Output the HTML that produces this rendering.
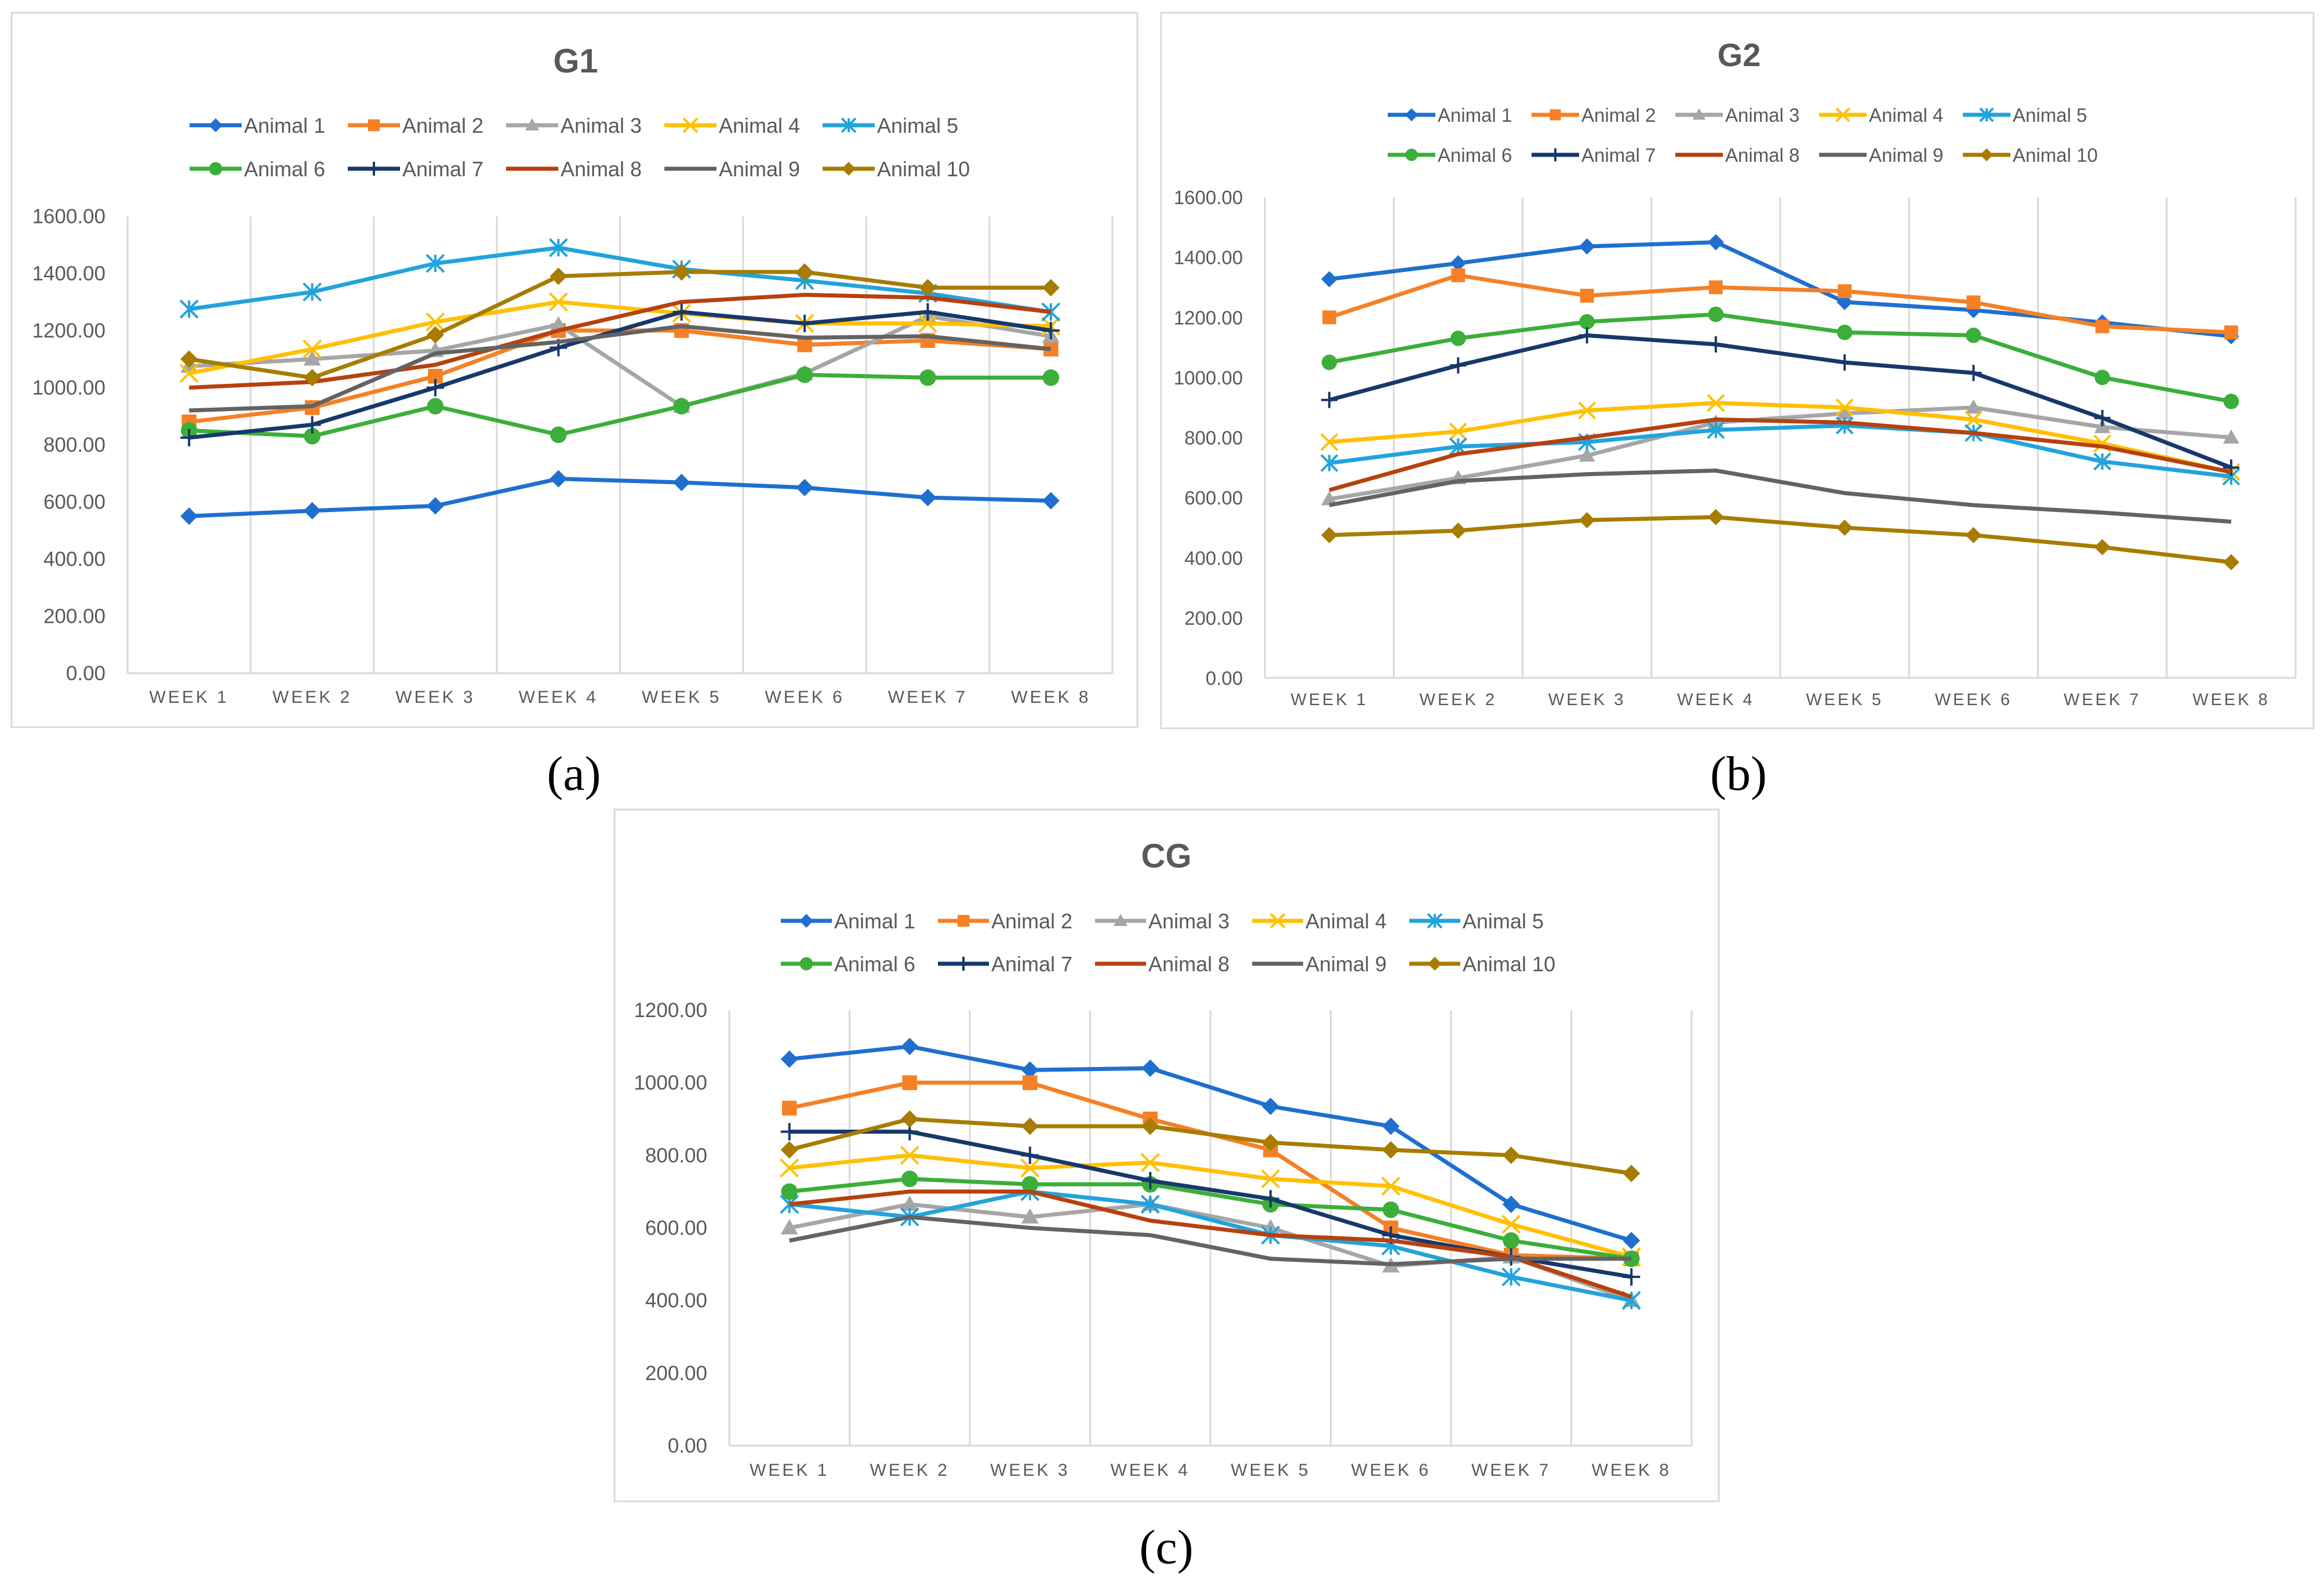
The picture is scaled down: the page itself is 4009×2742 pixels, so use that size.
<!DOCTYPE html>
<html><head><meta charset="utf-8"><style>
html,body{margin:0;padding:0;background:#fff;}
svg{display:block;}
text{font-family:"Liberation Sans Narrow","Liberation Sans",sans-serif;}
</style></head><body>
<svg id="root" width="4009" height="2742" viewBox="0 0 4009 2742" xmlns="http://www.w3.org/2000/svg"></svg>
<script>
const weeks = ["WEEK 1","WEEK 2","WEEK 3","WEEK 4","WEEK 5","WEEK 6","WEEK 7","WEEK 8"];
const seriesNames = ["Animal 1","Animal 2","Animal 3","Animal 4","Animal 5","Animal 6","Animal 7","Animal 8","Animal 9","Animal 10"];
const ticksG = [0,200,400,600,800,1000,1200,1400,1600];
const ticksCG = [0,200,400,600,800,1000,1200];
const g1A1=[550,569,586,681,668,650,615,604];
const g1A2=[880,930,1040,1200,1200,1150,1165,1135];
const g1A3=[1075,1100,1130,1220,935,1050,1250,1180];
const g1A4=[1050,1135,1230,1300,1260,1225,1225,1215];
const g1A5=[1275,1335,1435,1490,1415,1375,1330,1265];
const g1A6=[850,830,935,835,935,1045,1035,1035];
const g1A7=[825,870,1000,1140,1265,1225,1265,1200];
const g1A8=[1000,1020,1080,1200,1300,1325,1315,1265];
const g1A9=[920,935,1120,1160,1215,1175,1180,1135];
const g1A10=[1100,1035,1185,1390,1405,1405,1350,1350];
const g2A1=[1327,1380,1436,1450,1251,1224,1183,1137];
const g2A2=[1200,1340,1272,1300,1287,1250,1170,1150];
const g2A3=[595,665,740,850,880,900,835,800];
const g2A4=[785,820,890,915,900,860,780,685];
const g2A5=[715,770,785,825,840,815,720,670];
const g2A6=[1050,1130,1185,1210,1150,1140,1000,920];
const g2A7=[925,1040,1140,1110,1050,1015,865,700];
const g2A8=[625,745,800,860,850,815,770,685];
const g2A9=[575,655,678,690,615,575,550,520];
const g2A10=[475,490,525,535,500,475,435,385];
const cgA1=[1065,1100,1035,1040,935,880,665,565];
const cgA2=[930,1000,1000,900,815,600,525,515];
const cgA3=[600,665,630,665,600,495,520,400];
const cgA4=[765,800,765,780,735,715,610,520];
const cgA5=[665,630,700,665,580,550,465,400];
const cgA6=[700,735,720,720,665,650,565,515];
const cgA7=[865,865,800,730,680,580,520,465];
const cgA8=[665,700,700,620,580,565,520,410];
const cgA9=[565,630,600,580,515,500,515,515];
const cgA10=[815,900,880,880,835,815,800,750];

const colors=["#1f6fcf","#f58026","#a6a6a6","#ffc000","#22a3dc","#3cae3a","#17386b","#b7410e","#636363","#a77c00"];
const markers=["diamond","square","triangle","x","star","circle","plus","none","none","diamond"];

const NS="http://www.w3.org/2000/svg";
const root=document.getElementById('root');
function mk(tag,attrs,parent){const e=document.createElementNS(NS,tag);for(const k in attrs)e.setAttribute(k,attrs[k]);(parent||root).appendChild(e);return e;}

function marker(g,type,x,y,c,s){
  let e=null;
  if(type==="diamond"){e=mk('polygon',{points:`${x},${y-s} ${x+s},${y} ${x},${y+s} ${x-s},${y}`,fill:c},g);}
  else if(type==="square"){e=mk('rect',{x:x-s*0.85,y:y-s*0.85,width:s*1.7,height:s*1.7,fill:c},g);}
  else if(type==="triangle"){e=mk('polygon',{points:`${x},${y-s} ${x+s},${y+s*0.75} ${x-s},${y+s*0.75}`,fill:c},g);}
  else if(type==="circle"){e=mk('circle',{cx:x,cy:y,r:s*0.95,fill:c},g);}
  else if(type==="x"){e=mk('path',{d:`M${x-s} ${y-s}L${x+s} ${y+s}M${x-s} ${y+s}L${x+s} ${y-s}`,stroke:c,'stroke-width':4,fill:'none'},g);}
  else if(type==="star"){e=mk('path',{d:`M${x-s} ${y-s}L${x+s} ${y+s}M${x-s} ${y+s}L${x+s} ${y-s}M${x} ${y-s}L${x} ${y+s}`,stroke:c,'stroke-width':4,fill:'none'},g);}
  else if(type==="plus"){e=mk('path',{d:`M${x-s} ${y}L${x+s} ${y}M${x} ${y-s}L${x} ${y+s}`,stroke:c,'stroke-width':4,fill:'none'},g);}
  if(e){
    
    
  }
}

function chart(cfg){
  const g=mk('g',{});
  
  
  const fr=mk('rect',{x:cfg.fx,y:cfg.fy,width:cfg.fw,height:cfg.fh,fill:'#fff',stroke:'#d9d9d9','stroke-width':3},g);
  
  
  const t=mk('text',{x:cfg.tx,y:cfg.ty,'text-anchor':'middle','font-size':cfg.tfs,'font-weight':'bold',fill:'#595959'},g);
  t.textContent=cfg.title;
  
  
  const L=cfg.L,R=cfg.R,T=cfg.T,B=cfg.B,ymax=cfg.ymax;
  const n=weeks.length,cw=(R-L)/n;
  const xs=i=>L+cw*(i+0.5);
  const ys=v=>B-(B-T)*v/ymax;
  for(let i=0;i<=n;i++){
    const gl=mk('line',{x1:L+cw*i,x2:L+cw*i,y1:T,y2:B,stroke:'#d9d9d9','stroke-width':3},g);
    
    
  }
  const ax=mk('line',{x1:L,x2:R,y1:B,y2:B,stroke:'#d9d9d9','stroke-width':3},g);
  
  
  cfg.ticks.forEach(v=>{
    const tl=mk('text',{x:L-38,y:ys(v)+12,'text-anchor':'end','font-size':cfg.afs,fill:'#595959'},g);
    tl.textContent=v.toFixed(2);
    
    
  });
  weeks.forEach((w,i)=>{
    const wl=mk('text',{x:xs(i),y:cfg.wy,'text-anchor':'middle','font-size':cfg.wfs,fill:'#595959','letter-spacing':4},g);
    wl.textContent=w;
    
    
  });
  cfg.data.forEach((arr,si)=>{
    const pts=arr.map((v,i)=>xs(i)+','+ys(v)).join(' ');
    const pl=mk('polyline',{points:pts,fill:'none',stroke:colors[si],'stroke-width':cfg.lw,'stroke-linejoin':'round'},g);
    
    
    arr.forEach((v,i)=>marker(g,markers[si],xs(i),ys(v),colors[si],cfg.ms));
  });
  seriesNames.forEach((nm,si)=>{
    const row=si<5?0:1,col=si%5;
    const lx=cfg.lgx+col*cfg.lgs,ly=row===0?cfg.lgy1:cfg.lgy2;
    const lg=mk('g',{},g);
    
    
    mk('line',{x1:lx,x2:lx+cfg.lgw,y1:ly,y2:ly,stroke:colors[si],'stroke-width':cfg.lw},lg);
    marker(lg,markers[si],lx+cfg.lgw/2,ly,colors[si],cfg.ms*0.8);
    const lt=mk('text',{x:lx+cfg.lgw+4,y:ly+cfg.lfs*0.36,'font-size':cfg.lfs,fill:'#595959'},lg);
    lt.textContent=nm;
  });
}

chart({name:'chart-g1',title:'G1',fx:20,fy:22,fw:1942,fh:1232,tx:993,ty:125,tfs:58,
  L:220,R:1919,T:373,B:1161,ymax:1600,ticks:ticksG,afs:35,wy:1212,wfs:30,lw:7,ms:15,
  lgx:327,lgs:273,lgw:90,lgy1:216,lgy2:291,lfs:36,
  data:[g1A1,g1A2,g1A3,g1A4,g1A5,g1A6,g1A7,g1A8,g1A9,g1A10]});
chart({name:'chart-g2',title:'G2',fx:2003,fy:22,fw:1988,fh:1234,tx:3000,ty:114,tfs:56,
  L:2182,R:3960,T:340,B:1169,ymax:1600,ticks:ticksG,afs:33,wy:1216,wfs:29,lw:7,ms:14,
  lgx:2394,lgs:248,lgw:82,lgy1:198,lgy2:267,lfs:33,
  data:[g2A1,g2A2,g2A3,g2A4,g2A5,g2A6,g2A7,g2A8,g2A9,g2A10]});
chart({name:'chart-cg',title:'CG',fx:1060,fy:1396,fw:1905,fh:1193,tx:2012,ty:1496,tfs:58,
  L:1258,R:2918,T:1742,B:2493,ymax:1200,ticks:ticksCG,afs:35,wy:2545,wfs:30,lw:7,ms:15,
  lgx:1347,lgs:271,lgw:88,lgy1:1588,lgy2:1662,lfs:36,
  data:[cgA1,cgA2,cgA3,cgA4,cgA5,cgA6,cgA7,cgA8,cgA9,cgA10]});

[["(a)",990,1362],["(b)",2999,1362],["(c)",2012,2696]].forEach(([s,x,y])=>{
  const e=mk('text',{x:x,y:y,'text-anchor':'middle','font-size':84,fill:'#000'});
  e.setAttribute('style','font-family:"Liberation Serif",serif');
  e.textContent=s;
  
  
});
</script>
</body></html>
